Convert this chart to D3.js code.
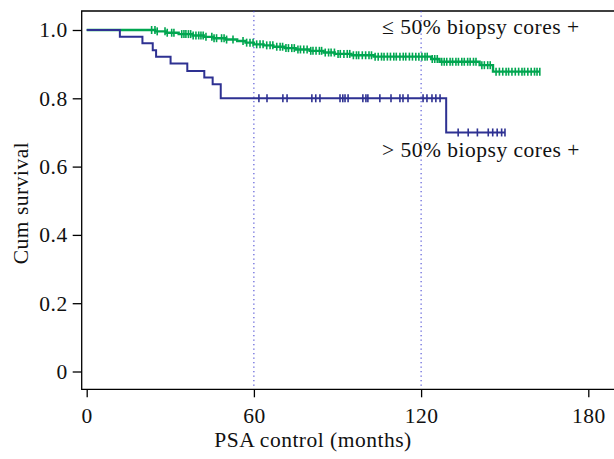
<!DOCTYPE html>
<html>
<head>
<meta charset="utf-8">
<script src="https://cdn.jsdelivr.net/npm/d3@7"></script>
<style>
  body { margin: 0; background: #fff; }
  text { font-family: "Liberation Serif", "DejaVu Serif", serif; letter-spacing: 0.5px; }
</style>
</head>
<body>
<svg id="chart" width="614" height="459"></svg>
<script>
// ---- data (months, cumulative survival) ----
// steps: [time, survival after event]
var lowSteps = [
  [0, 1.0], [24.6, 0.996], [28.5, 0.992], [33, 0.988], [38, 0.984], [42, 0.980],
  [45.5, 0.976], [50, 0.972], [54, 0.968], [57, 0.963], [60, 0.958], [63.5, 0.955],
  [67, 0.951], [71, 0.947], [75, 0.943], [80, 0.939], [85, 0.934], [89, 0.930],
  [95, 0.926], [103, 0.922], [123.6, 0.915], [126.6, 0.907], [141, 0.897], [145.8, 0.878]
];
var lowEnd = 162.6;
var lowCensor = [
  23.3, 24.5, 25.3, 28.1, 28.9, 30.5, 31.3, 34.1, 34.9, 35.6, 36.5, 37.3, 38.2, 39.2,
  40.2, 41.0, 41.8, 42.8, 44.9, 45.7, 46.6, 48.4, 49.3, 50.2, 52.5, 56.1, 57.4, 58.6,
  59.7, 61.0, 62.2, 63.3, 64.6, 65.8, 66.8, 68.2, 69.4, 70.3, 71.5, 72.4, 73.6, 74.5,
  75.8, 76.7, 77.9, 79.1, 80.4, 81.2, 82.3, 83.5, 84.3, 85.6, 86.8, 87.7, 88.9, 90.2,
  91.0, 92.3, 93.5, 94.4, 95.7, 96.8, 97.6, 98.9, 100.1, 101.3, 102.2, 103.5, 104.6,
  105.8, 106.7, 107.9, 109.0, 110.2, 111.1, 112.4, 113.6, 114.5, 115.8, 116.9, 118.1,
  119.2, 120.3, 121.4, 122.2, 124.0, 124.9, 125.8, 127.4, 128.3, 129.2, 130.4, 131.3,
  132.5, 133.4, 134.6, 135.5, 136.7, 137.6, 138.8, 139.7, 141.8, 142.7, 143.9, 144.8,
  146.9, 148.1, 149.3, 150.5, 151.4, 152.6, 153.8, 155.0, 156.2, 157.1, 158.3, 159.5,
  160.7, 161.6, 162.6
];
var highSteps = [
  [0, 1.0], [11.9, 0.980], [20, 0.961], [23.7, 0.941], [24.9, 0.922], [30.1, 0.902],
  [36.1, 0.880], [42.2, 0.861], [45.2, 0.841], [48.1, 0.800], [129, 0.700]
];
var highEnd = 150.1;
var highCensor = [
  61.8, 64.7, 70.4, 71.9, 80.8, 82.2, 83.7, 90.9, 91.9, 92.7, 93.8, 99.1, 100.2, 100.9,
  105.2, 109.2, 112.4, 113.5, 115.3, 120.7, 122.1, 123.9, 125.3, 126.8,
  133.3, 136.9, 140.2, 144.1, 145.7, 147.3, 148.9, 150.1
];
var xTicks = [0, 60, 120, 180];
var yTicks = [0, 0.2, 0.4, 0.6, 0.8, 1.0];
var refLines = [60, 120];
var groupLabels = ["\u2264 50% biopsy cores +", "> 50% biopsy cores +"];

var svg = d3.select("#chart");
var x = d3.scaleLinear().domain([0, 180]).range([86.7, 588.3]);
var y = d3.scaleLinear().domain([0, 1]).range([371.5, 30]);

var green = "#00a650", navy = "#2e3192";
var fs = "21.5px";

// frame (open on the right, runs off the image)
svg.append("path")
  .attr("d", "M620,11H81.7V389.3H620")
  .attr("fill", "none").attr("stroke", "#000").attr("stroke-width", 1.3);

// dotted reference lines
svg.selectAll(".ref").data(refLines).enter().append("line")
  .attr("x1", d => x(d)).attr("x2", d => x(d))
  .attr("y1", 11).attr("y2", 389)
  .attr("stroke", "#3b3bd0").attr("stroke-width", 1)
  .attr("stroke-dasharray", "1.3,3.2");

// axes
var yAxis = d3.axisLeft(y).tickValues(yTicks)
  .tickFormat(d => d === 0 ? "0" : d3.format(".1f")(d))
  .tickSize(9).tickPadding(5);
var gy = svg.append("g").attr("transform", "translate(81.7,0)").call(yAxis);
gy.select(".domain").remove();

var xAxis = d3.axisBottom(x).tickValues(xTicks).tickSize(8).tickPadding(10);
var gx = svg.append("g").attr("transform", "translate(0,389.3)").call(xAxis);
gx.select(".domain").remove();

svg.selectAll(".tick line").attr("stroke", "#000").attr("stroke-width", 1.3);
svg.selectAll(".tick text").attr("fill", "#111").style("font-size", fs)
  .style("font-family", "'Liberation Serif', serif");

svg.append("text").attr("x", 313).attr("y", 447).attr("text-anchor", "middle")
  .style("font-size", fs).attr("fill", "#111").text("PSA control (months)");
svg.append("text").attr("transform", "translate(28,203) rotate(-90)")
  .attr("text-anchor", "middle").style("font-size", fs).attr("fill", "#111")
  .text("Cum survival");

// survival curves
function drawCurve(steps, end, censor, color, width) {
  var pts = steps.concat([[end, steps[steps.length - 1][1]]]);
  var line = d3.line().x(d => x(d[0])).y(d => y(d[1])).curve(d3.curveStepAfter);
  svg.append("path").datum(pts).attr("d", line)
    .attr("fill", "none").attr("stroke", color).attr("stroke-width", width);
  function survAt(t) {
    var s = 1;
    steps.forEach(function (p) { if (p[0] <= t) s = p[1]; });
    return s;
  }
  svg.selectAll(null).data(censor).enter().append("line")
    .attr("x1", d => x(d)).attr("x2", d => x(d))
    .attr("y1", d => y(survAt(d)) - 4).attr("y2", d => y(survAt(d)) + 4)
    .attr("stroke", color).attr("stroke-width", 1.6);
}
drawCurve(lowSteps, lowEnd, lowCensor, green, 2.4);
drawCurve(highSteps, highEnd, highCensor, navy, 2);

// group labels
svg.append("text").attr("x", 382).attr("y", 34).style("font-size", fs)
  .attr("fill", "#111").text(groupLabels[0]);
svg.append("text").attr("x", 382).attr("y", 157).style("font-size", fs)
  .attr("fill", "#111").text(groupLabels[1]);
</script>
</body>
</html>
